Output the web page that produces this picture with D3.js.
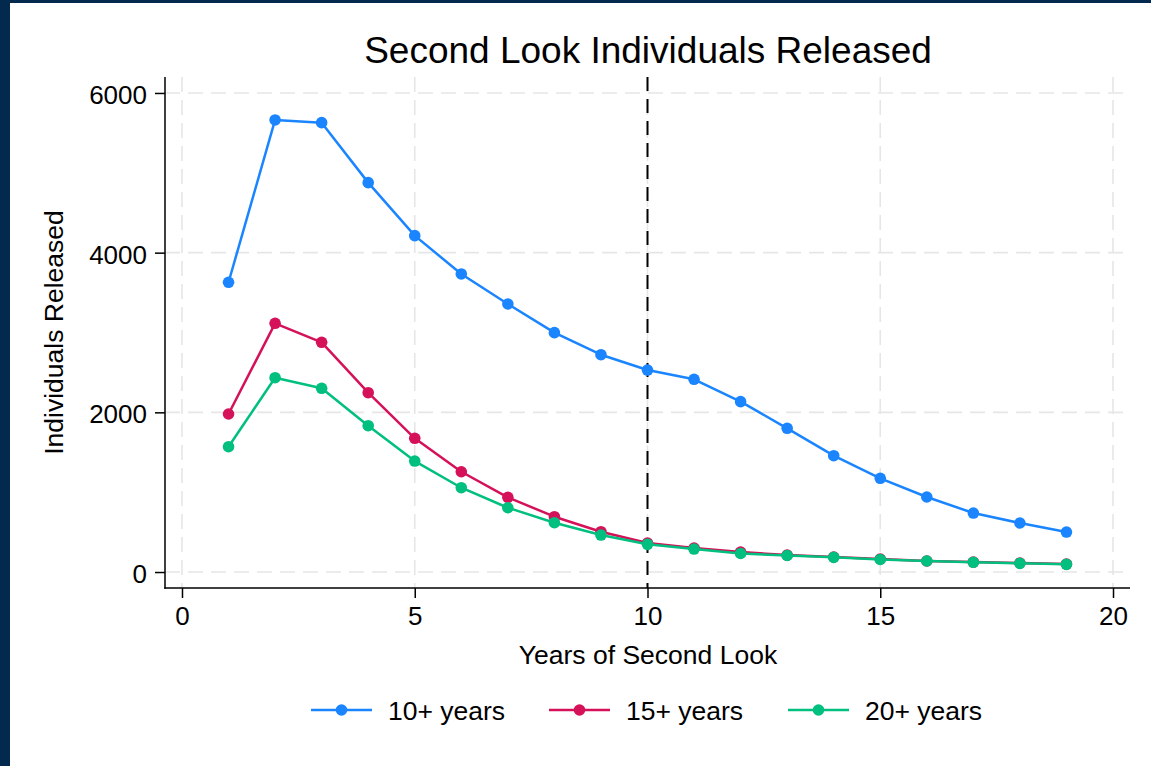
<!DOCTYPE html>
<html>
<head>
<meta charset="utf-8">
<script src="https://cdn.jsdelivr.net/npm/d3@7"></script>
<style>
  html, body { margin: 0; padding: 0; background: #fff; }
  svg { display: block; }
  text { font-family: "Liberation Sans", Arial, Helvetica, sans-serif; fill: #000; }
</style>
</head>
<body>
<svg id="chart" width="1151" height="766"></svg>
<script>
const years = [1,2,3,4,5,6,7,8,9,10,11,12,13,14,15,16,17,18,19];
const tenPlus =    [3629,5662,5628,4877,4213,3733,3357,2998,2722,2530,2414,2134,1800,1457,1174,940,739,614,501];
const fifteenPlus =[1979,3115,2877,2246,1675,1256,936,693,505,363,300,250,213,188,163,138,125,113,100];
const twentyPlus = [1570,2434,2301,1833,1390,1056,805,618,463,347,288,232,207,184,157,138,122,109,96];
const seriesNames = ["10+ years","15+ years","20+ years"];
const seriesColors = ["#1a85ff","#d41159","#00bf7f"];
const xTicks = [0,5,10,15,20];
const yTicks = [0,2000,4000,6000];
const refLineX = 10;
const titleText = "Second Look Individuals Released";
const xTitle = "Years of Second Look";
const yTitle = "Individuals Released";

const svg = d3.select("#chart");
const W = 1151, H = 766;
const plot = {left:165, right:1130, top:77, bottom:588};

// frame border
svg.append("rect").attr("x",0).attr("y",0).attr("width",W).attr("height",H).attr("fill","#03294f");
svg.append("rect").attr("x",10).attr("y",3).attr("width",W-10).attr("height",H-3).attr("fill","#ffffff");

const x = d3.scaleLinear().domain([-0.365, 20.365]).range([plot.left, plot.right]);
const y = d3.scaleLinear().domain([-200, 6200]).range([plot.bottom, plot.top]);

// grid
const grid = svg.append("g").attr("stroke","#e6e6e6").attr("stroke-width",1.6).attr("stroke-dasharray","15,8");
grid.selectAll("line.h").data(yTicks).join("line")
  .attr("x1",plot.left).attr("x2",plot.right).attr("y1",d=>y(d)).attr("y2",d=>y(d));
grid.selectAll("line.v").data(xTicks).join("line")
  .attr("y1",plot.top).attr("y2",plot.bottom).attr("x1",d=>x(d)).attr("x2",d=>x(d));

// reference line
svg.append("line").attr("x1",x(refLineX)).attr("x2",x(refLineX))
  .attr("y1",plot.top).attr("y2",plot.bottom)
  .attr("stroke","#000").attr("stroke-width",2).attr("stroke-dasharray","14,8");

// axes
const yAxis = svg.append("g").attr("transform",`translate(${plot.left},0)`)
  .call(d3.axisLeft(y).tickValues(yTicks).tickSize(10).tickPadding(8).tickFormat(d3.format("d")));
yAxis.select(".domain").remove();
yAxis.selectAll(".tick line").attr("stroke","#000").attr("stroke-width",1.5);
yAxis.selectAll(".tick text").attr("font-size",26).attr("dy","0.40em")
  .style("font-family","'Liberation Sans', Arial, sans-serif");
svg.append("line").attr("x1",plot.left).attr("x2",plot.left).attr("y1",plot.top).attr("y2",plot.bottom+0.75)
  .attr("stroke","#000").attr("stroke-width",1.5);

const xAxis = svg.append("g").attr("transform",`translate(0,${plot.bottom})`)
  .call(d3.axisBottom(x).tickValues(xTicks).tickSize(10).tickPadding(9).tickFormat(d3.format("d")));
xAxis.select(".domain").remove();
xAxis.selectAll(".tick line").attr("stroke","#000").attr("stroke-width",1.5);
xAxis.selectAll(".tick text").attr("font-size",26)
  .style("font-family","'Liberation Sans', Arial, sans-serif");
svg.append("line").attr("x1",plot.left-0.75).attr("x2",plot.right).attr("y1",plot.bottom).attr("y2",plot.bottom)
  .attr("stroke","#000").attr("stroke-width",1.5);

// series
const seriesData = [tenPlus, fifteenPlus, twentyPlus];
const line = d3.line().x((d,i)=>x(years[i])).y(d=>y(d));
seriesData.forEach((vals, si) => {
  const g = svg.append("g");
  g.append("path").datum(vals).attr("d", line).attr("fill","none")
    .attr("stroke", seriesColors[si]).attr("stroke-width",2.5).attr("stroke-linejoin","round");
  g.selectAll("circle").data(vals).join("circle")
    .attr("cx",(d,i)=>x(years[i])).attr("cy",d=>y(d)).attr("r",5.8).attr("fill",seriesColors[si]);
});

// title
svg.append("text").attr("x",648).attr("y",63).attr("text-anchor","middle")
  .attr("font-size",37).text(titleText);
// axis titles
svg.append("text").attr("x",648).attr("y",664).attr("text-anchor","middle")
  .attr("font-size",26.5).text(xTitle);
svg.append("text").attr("transform",`translate(63,${(plot.top+plot.bottom)/2}) rotate(-90)`)
  .attr("text-anchor","middle").attr("font-size",26.5).text(yTitle);

// legend
const legendX = [311, 549, 788];
const legendY = 710;
seriesNames.forEach((name, i) => {
  const g = svg.append("g").attr("transform",`translate(${legendX[i]},${legendY})`);
  g.append("line").attr("x1",0).attr("x2",61).attr("y1",0).attr("y2",0)
    .attr("stroke",seriesColors[i]).attr("stroke-width",2.5);
  g.append("circle").attr("cx",30.5).attr("cy",0).attr("r",5.8).attr("fill",seriesColors[i]);
  g.append("text").attr("x",77).attr("y",0).attr("dy","0.36em").attr("font-size",26.5).text(name);
});
</script>
</body>
</html>
